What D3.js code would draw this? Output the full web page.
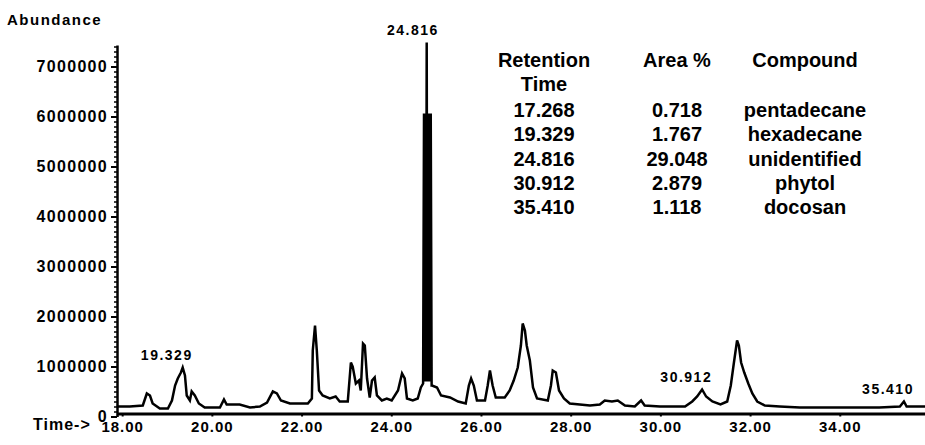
<!DOCTYPE html>
<html>
<head>
<meta charset="utf-8">
<script src="https://cdn.jsdelivr.net/npm/d3@7"></script>
<style>
  body { margin: 0; background: #fff; }
  svg text { font-family: "Liberation Sans", Arial, sans-serif; font-weight: bold; fill: #000; }
</style>
</head>
<body>
<svg id="chart" width="925" height="445"></svg>
<script>
// chromatogram trace: retention time (min) and abundance
var traceTime = [17.88, 18.17, 18.46, 18.55, 18.62, 18.68, 18.84, 19.02, 19.11, 19.18, 19.24, 19.31, 19.35, 19.40, 19.44,
    19.51, 19.55, 19.62, 19.71, 19.84, 20.18, 20.27, 20.33, 20.62, 20.85, 21.07, 21.23, 21.36, 21.45, 21.54, 21.74,
    22.14, 22.23, 22.25, 22.30, 22.34, 22.39, 22.47, 22.63, 22.76, 22.85, 23.03, 23.10, 23.14, 23.21, 23.28, 23.32,
    23.37, 23.41, 23.46, 23.52, 23.57, 23.63, 23.68, 23.79, 23.90, 24.01, 24.15, 24.24, 24.30, 24.35, 24.48, 24.59,
    24.66, 24.71, 24.73, 24.745, 24.76, 24.775, 24.79, 24.805, 24.82, 24.835, 24.85, 24.865, 24.88, 24.90,
    24.91, 25.02, 25.11, 25.31, 25.49, 25.66, 25.73, 25.78, 25.84, 25.91, 26.09, 26.15, 26.20, 26.26, 26.33, 26.53,
    26.64, 26.73, 26.82, 26.89, 26.93, 26.98, 27.02, 27.09, 27.16, 27.25, 27.49, 27.56, 27.60, 27.67, 27.74, 27.85,
    27.98, 28.43, 28.65, 28.76, 28.92, 29.05, 29.21, 29.43, 29.57, 29.65, 29.99, 30.55, 30.71, 30.82, 30.93, 31.02,
    31.16, 31.34, 31.49, 31.57, 31.64, 31.71, 31.75, 31.80, 31.87, 31.96, 32.05, 32.16, 32.33, 32.66, 33.11, 34.21,
    34.88, 35.34, 35.43, 35.49, 35.90];
var traceAbundance = [200000, 200000, 220000, 460000, 420000, 260000, 160000, 160000, 320000, 620000, 760000, 880000, 980000, 820000, 420000,
    320000, 500000, 420000, 260000, 180000, 180000, 340000, 240000, 240000, 180000, 200000, 280000, 500000, 460000, 320000, 260000,
    260000, 360000, 1320000, 1820000, 1320000, 520000, 420000, 360000, 400000, 300000, 300000, 1080000, 1000000, 660000, 720000, 520000,
    1460000, 1420000, 760000, 380000, 720000, 780000, 420000, 320000, 360000, 320000, 520000, 860000, 760000, 360000, 320000, 360000,
    580000, 660000, 6060000, 700000, 6060000, 700000, 7480000, 700000, 6060000, 700000, 6060000, 700000, 6060000, 620000,
    620000, 580000, 420000, 380000, 300000, 260000, 620000, 760000, 620000, 320000, 320000, 620000, 920000, 620000, 380000, 380000,
    520000, 720000, 980000, 1420000, 1860000, 1720000, 1420000, 1120000, 580000, 360000, 320000, 620000, 920000, 880000, 520000, 360000,
    260000, 220000, 240000, 320000, 300000, 320000, 220000, 200000, 320000, 220000, 200000, 200000, 300000, 400000, 540000, 400000,
    300000, 240000, 300000, 620000, 1080000, 1520000, 1420000, 1080000, 880000, 660000, 460000, 300000, 220000, 200000, 180000, 180000,
    180000, 200000, 300000, 200000, 200000];

// annotated peaks
var peakTimes = [19.329, 24.816, 30.912, 35.410];
var peakLabels = ["19.329", "24.816", "30.912", "35.410"];

// table
var tableTimes = ["17.268", "19.329", "24.816", "30.912", "35.410"];
var tableAreas = ["0.718", "1.767", "29.048", "2.879", "1.118"];
var tableCompounds = ["pentadecane", "hexadecane", "unidentified", "phytol", "docosan"];

// ticks
var yTickValues = [0, 1000000, 2000000, 3000000, 4000000, 5000000, 6000000, 7000000];
var xTickValues = [18, 20, 22, 24, 26, 28, 30, 32, 34];

var svg = d3.select("#chart");
var plotLeft = 117, plotRight = 925, plotTop = 45, plotBottom = 416.5;

var x = d3.scaleLinear().domain([17.885, 35.9]).range([plotLeft, plotRight]);
var y = d3.scaleLinear().domain([0, 7430000]).range([plotBottom, plotTop]);

var data = traceTime.map(function (t, i) { return [t, traceAbundance[i]]; });

// trace
var line = d3.line()
    .x(function (d) { return x(d[0]); })
    .y(function (d) { return y(d[1]); });

svg.append("path")
    .datum(data)
    .attr("fill", "none")
    .attr("stroke", "#000")
    .attr("stroke-width", 2.5)
    .attr("stroke-linejoin", "miter")
    .attr("d", line);

// minor y ticks
var minorTicks = d3.range(0, 7400001, 100000);
svg.append("g")
    .attr("transform", "translate(" + plotLeft + ",0)")
    .call(d3.axisLeft(y).tickValues(minorTicks).tickSize(3).tickFormat(""))
    .call(function (g) { g.select(".domain").remove(); g.selectAll("line").attr("stroke-width", 1.5); });

// y axis
var yAxis = svg.append("g")
    .attr("transform", "translate(" + plotLeft + ",0)")
    .call(d3.axisLeft(y).tickValues(yTickValues).tickSizeInner(6).tickSizeOuter(0).tickPadding(3).tickFormat(d3.format("d")));
yAxis.select(".domain").attr("stroke-width", 2.5);
yAxis.selectAll("line").attr("stroke-width", 2);
yAxis.selectAll("text").style("font-size", "16px").attr("letter-spacing", "1.3px");

// x axis
var xAxis = svg.append("g")
    .attr("transform", "translate(0," + (y(0) - 3) + ")")
    .call(d3.axisBottom(x).tickValues(xTickValues).tickSizeInner(3).tickSizeOuter(0).tickPadding(5).tickFormat(d3.format(".2f")));
xAxis.select(".domain").attr("stroke-width", 3);
xAxis.selectAll("line").attr("stroke-width", 2);
xAxis.selectAll("text").style("font-size", "15px").attr("letter-spacing", "1px");

// axis titles
svg.append("text")
    .attr("x", 7).attr("y", 25)
    .attr("letter-spacing", "1.5px")
    .style("font-size", "15px")
    .text("Abundance");

svg.append("text")
    .attr("x", 33).attr("y", 430)
    .attr("letter-spacing", "1px")
    .style("font-size", "16px")
    .text("Time->");

// peak labels
peakTimes.forEach(function (t, i) {
    var near = data.filter(function (d) { return Math.abs(d[0] - t) < 0.12; });
    var peakTop = d3.max(near, function (d) { return d[1]; });
    svg.append("text")
        .attr("x", x(t) - 15)
        .attr("y", y(peakTop) - 11)
        .attr("text-anchor", "middle")
        .attr("dominant-baseline", "middle")
        .attr("letter-spacing", "1.5px")
        .style("font-size", "14px")
        .text(peakLabels[i]);
});

// table of compounds
var colX = [544, 677, 805];
var table = svg.append("g").style("font-size", "20px").attr("text-anchor", "middle");
table.append("text").attr("x", colX[0]).attr("y", 67).text("Retention");
table.append("text").attr("x", colX[0]).attr("y", 91).text("Time");
table.append("text").attr("x", colX[1]).attr("y", 67).text("Area %");
table.append("text").attr("x", colX[2]).attr("y", 67).text("Compound");

var rowY = d3.scaleLinear().domain([0, 4]).range([117, 214]);
tableTimes.forEach(function (t, i) {
    table.append("text").attr("x", colX[0]).attr("y", rowY(i)).text(t);
    table.append("text").attr("x", colX[1]).attr("y", rowY(i)).text(tableAreas[i]);
    table.append("text").attr("x", colX[2]).attr("y", rowY(i)).text(tableCompounds[i]);
});
</script>
</body>
</html>
